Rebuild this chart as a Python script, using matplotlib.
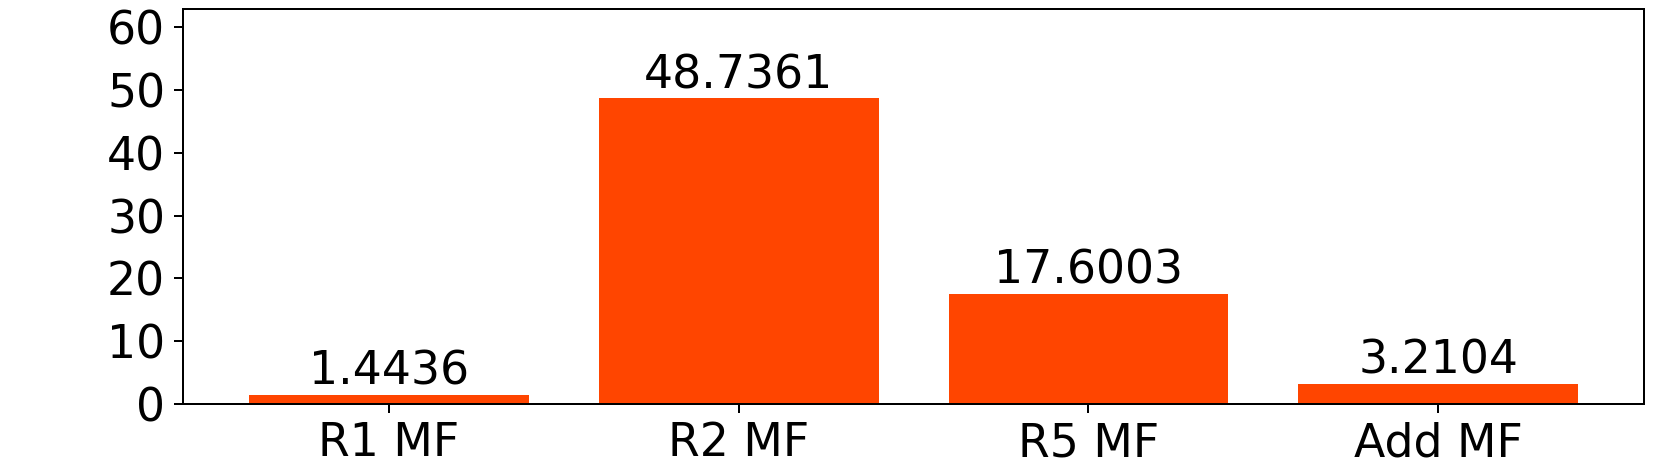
import matplotlib
matplotlib.use("Agg")
import matplotlib.pyplot as plt

categories = ["R1 MF", "R2 MF", "R5 MF", "Add MF"]
values = [1.4436, 48.7361, 17.6003, 3.2104]
labels = ["1.4436", "48.7361", "17.6003", "3.2104"]

fig = plt.figure(figsize=(1661/180, 465/180), dpi=180)
ax = fig.add_axes([0.110, 0.1312, 0.880, 0.849])
ax.bar(categories, values, width=0.8, color="#FF4500")
for i, (v, lab) in enumerate(zip(values, labels)):
    ax.text(i, v, lab, ha="center", va="bottom", fontsize=18.3)
ax.set_ylim(0, 62.9)
ax.set_yticks([0, 10, 20, 30, 40, 50, 60])
ax.tick_params(labelsize=18.3)
fig.savefig("out.png", dpi=180)
